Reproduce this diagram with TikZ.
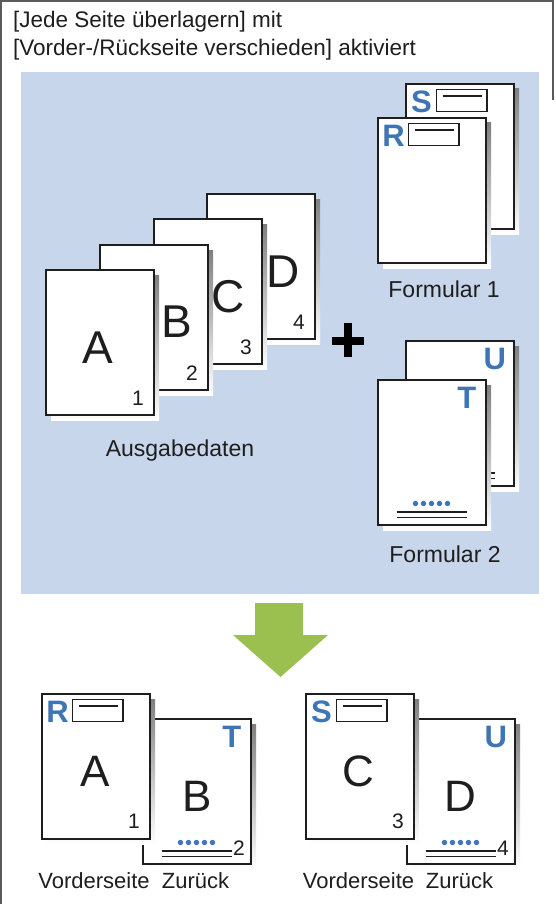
\documentclass[tikz,border=0pt]{standalone}
\usepackage{fontspec}
\setmainfont{Liberation Sans}
\usetikzlibrary{calc}
\definecolor{panel}{RGB}{200,214,236}
\definecolor{hdrblue}{RGB}{61,117,182}
\definecolor{shade}{RGB}{138,139,143}
\definecolor{arrowgreen}{RGB}{155,192,80}
\definecolor{ink}{RGB}{30,30,30}
\definecolor{framegray}{RGB}{90,90,90}
\tikzset{
  sheet/.style={draw=ink, line width=1.8pt, fill=white, minimum width=108pt, minimum height=145pt, inner sep=0pt, anchor=north west},
  bigletter/.style={font=\fontsize{46}{46}\selectfont, inner sep=0pt, text=ink},
  smallbig/.style={font=\fontsize{44}{44}\selectfont, inner sep=0pt, text=ink},
  pagenum/.style={font=\fontsize{21}{21}\selectfont, inner sep=0pt, text=ink, anchor=base},
  hdr/.style={font=\fontsize{31}{31}\selectfont\bfseries, inner sep=0pt, text=hdrblue},
  boxline/.style={draw=ink, line width=1.8pt},
  ruleline/.style={draw=ink, line width=1.5pt},
  caption/.style={font=\fontsize{23}{23}\selectfont, inner sep=0pt, text=ink, anchor=base},
  subcaption/.style={font=\fontsize{22}{22}\selectfont, inner sep=0pt, text=ink, anchor=base},
  titletext/.style={font=\fontsize{22.5}{22.5}\selectfont, inner sep=0pt, text=ink, anchor=base west}
}
\newcommand\mysheet[3]{%
  \fill[shade] (#2+6,#3+6) rectangle ++(108,145);
  \node[sheet] (#1) at (#2,#3) {};}
\newcommand\frontmark[2]{%
  \node[hdr] at ($(#1.north west)+(16.5,18.5)$) {#2};
  \draw[boxline] ($(#1.north west)+(31.5,6.5)$) rectangle ($(#1.north west)+(82,28.5)$);
  \draw[boxline] ($(#1.north west)+(37.5,13)$) -- ($(#1.north west)+(76.5,13)$);}
\newcommand\backmark[2]{%
  \node[hdr] at ($(#1.north east)+(-20,18.5)$) {#2};
  \foreach \k in {0,...,4} {\fill[hdrblue] ($(#1.north west)+(38.5+8*\k,124.5)$) circle[radius=2.7pt];}
  \draw[ruleline] ($(#1.north west)+(20,133)$) -- ($(#1.north west)+(90,133)$);
  \draw[ruleline] ($(#1.north west)+(20,138.5)$) -- ($(#1.north west)+(90,138.5)$);}
\begin{document}
\begin{tikzpicture}[x=1pt,y=-1pt]
\useasboundingbox (0,0) rectangle (556,904);
\fill[white] (0,0) rectangle (556,904);
\draw[framegray, line width=1.2pt] (1,904) -- (1,1) -- (553,1) -- (553,100);
% title
\node[titletext] (t1) at (13,28) {[Jede Seite überlagern] mit};
\node[titletext] (t2) at (13,56) {[Vorder-/Rückseite verschieden] aktiviert};
% panel
\fill[panel] (21,72) rectangle (539,594);
% output data pages
\mysheet{pD}{206}{193}
\node[bigletter] at ($(pD.north west)+(77,79)$) {D};
\node[pagenum] at ($(pD.north west)+(93,136.5)$) {4};
\mysheet{pC}{153}{218}
\node[bigletter] at ($(pC.north west)+(75,79)$) {C};
\node[pagenum] at ($(pC.north west)+(93,136.5)$) {3};
\mysheet{pB}{99}{244}
\node[bigletter] at ($(pB.north west)+(78,78)$) {B};
\node[pagenum] at ($(pB.north west)+(93,136.5)$) {2};
\mysheet{pA}{45}{269}
\node[bigletter] at ($(pA.north west)+(53,79)$) {A};
\node[pagenum] at ($(pA.north west)+(93,136.5)$) {1};
\node[caption] (lblA) at (180,456) {Ausgabedaten};
% plus
\fill[black] (332,337) rectangle (364,344.5);
\fill[black] (344.3,323) rectangle (351.7,357);
% Formular 1
\mysheet{fS}{405}{83}
\frontmark{fS}{S}
\mysheet{fR}{377}{117}
\frontmark{fR}{R}
\node[caption] (lblF1) at (444,297) {Formular 1};
% Formular 2
\mysheet{fU}{405}{340}
\backmark{fU}{U}
\mysheet{fT}{377}{379}
\backmark{fT}{T}
\node[caption] (lblF2) at (445,562) {Formular 2};
% arrow
\fill[arrowgreen] (255,603) -- (303,603) -- (303,635) -- (328,635) -- (280.5,677) -- (233,635) -- (255,635) -- cycle;
% result pair 1
\mysheet{rB}{142}{718}
\backmark{rB}{T}
\node[smallbig] at ($(rB.north west)+(55,78)$) {B};
\node[pagenum] at ($(rB.north west)+(97,137.5)$) {2};
\mysheet{rA}{41}{693}
\frontmark{rA}{R}
\node[smallbig] at ($(rA.north west)+(54,78)$) {A};
\node[pagenum] at ($(rA.north west)+(93,135.5)$) {1};
\node[subcaption] (v1) at (94,888) {Vorderseite};
\node[subcaption] (z1) at (195.5,888) {Zurück};
% result pair 2
\mysheet{rD}{406}{718}
\backmark{rD}{U}
\node[smallbig] at ($(rD.north west)+(54,78)$) {D};
\node[pagenum] at ($(rD.north west)+(97,137.5)$) {4};
\mysheet{rC}{305}{693}
\frontmark{rC}{S}
\node[smallbig] at ($(rC.north west)+(53,78)$) {C};
\node[pagenum] at ($(rC.north west)+(93,135.5)$) {3};
\node[subcaption] (v2) at (358.5,888) {Vorderseite};
\node[subcaption] (z2) at (459.5,888) {Zurück};
\end{tikzpicture}
\end{document}
